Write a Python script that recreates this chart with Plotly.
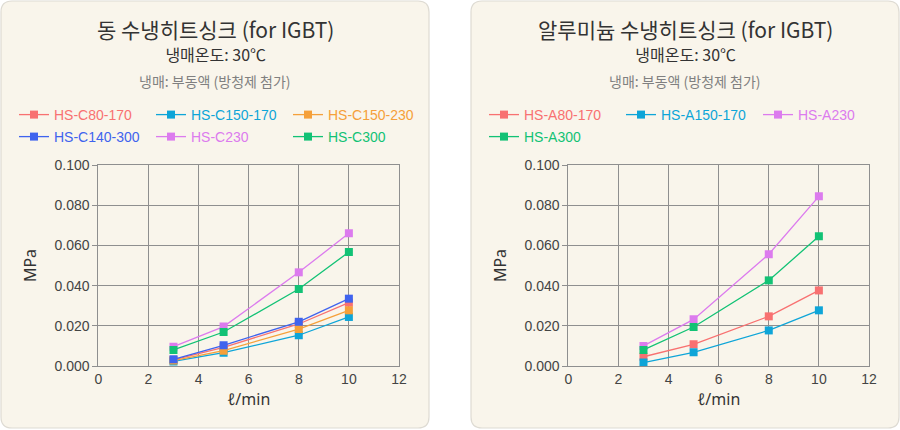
import plotly.graph_objects as go

W, H = 900, 430

flow = [3, 5, 8, 10]

# Copper heat sinks (left)
c_names = ["HS-C80-170", "HS-C150-170", "HS-C150-230", "HS-C140-300", "HS-C230", "HS-C300"]
c80_170 = [0.0030, 0.0093, 0.0209, 0.0315]
c150_170 = [0.0023, 0.0066, 0.0153, 0.0244]
c150_230 = [0.0027, 0.0076, 0.0184, 0.0277]
c140_300 = [0.0033, 0.0103, 0.0220, 0.0335]
c230 = [0.0096, 0.0196, 0.0466, 0.0660]
c300 = [0.0080, 0.0169, 0.0383, 0.0567]
c_values = [c80_170, c150_170, c150_230, c140_300, c230, c300]
c_colors = ["#f87171", "#0ea5d8", "#f5a03a", "#3f63ee", "#dc7bee", "#12c275"]

# Aluminium heat sinks (right)
a_names = ["HS-A80-170", "HS-A150-170", "HS-A230", "HS-A300"]
a80_170 = [0.0046, 0.0108, 0.0247, 0.0376]
a150_170 = [0.0017, 0.0068, 0.0177, 0.0277]
a230 = [0.0100, 0.0232, 0.0556, 0.0844]
a300 = [0.0080, 0.0194, 0.0426, 0.0645]
a_values = [a80_170, a150_170, a230, a300]
a_colors = ["#f87171", "#0ea5d8", "#dc7bee", "#12c275"]

left_titles = ["동 수냉히트싱크 (for IGBT)", "냉매온도: 30℃", "냉매: 부동액 (방청제 첨가)"]
right_titles = ["알루미늄 수냉히트싱크 (for IGBT)", "냉매온도: 30℃", "냉매: 부동액 (방청제 첨가)"]
x_ticks = [0, 2, 4, 6, 8, 10, 12]
y_ticks = [0, 0.02, 0.04, 0.06, 0.08, 0.10]

KR = "Noto Sans CJK KR"
LAT = "Liberation Sans, Arial"

def px(x):
    return x / W

def py(y):
    return 1 - y / H

fig = go.Figure()

left_rows = ["legend", "legend2"]
right_rows = ["legend3", "legend4"]

for i, (n, v, c) in enumerate(zip(c_names, c_values, c_colors)):
    fig.add_trace(go.Scatter(
        x=flow, y=v, mode="lines+markers",
        name=f"<span style='color:{c}'>{n}</span>",
        line=dict(color=c, width=1.3),
        marker=dict(symbol="square", size=8, color=c),
        xaxis="x", yaxis="y",
        legend=left_rows[i // 3],
    ))

for i, (n, v, c) in enumerate(zip(a_names, a_values, a_colors)):
    fig.add_trace(go.Scatter(
        x=flow, y=v, mode="lines+markers",
        name=f"<span style='color:{c}'>{n}</span>",
        line=dict(color=c, width=1.3),
        marker=dict(symbol="square", size=8, color=c),
        xaxis="x2", yaxis="y2",
        legend=right_rows[i // 3],
    ))

def rounded(x0, y0, x1, y1, r):
    rx, ry = r / W, r / H
    X0, X1 = px(x0), px(x1)
    Y0, Y1 = py(y1), py(y0)
    return (f"M {X0+rx} {Y1} L {X1-rx} {Y1} Q {X1} {Y1} {X1} {Y1-ry} "
            f"L {X1} {Y0+ry} Q {X1} {Y0} {X1-rx} {Y0} "
            f"L {X0+rx} {Y0} Q {X0} {Y0} {X0} {Y0+ry} "
            f"L {X0} {Y1-ry} Q {X0} {Y1} {X0+rx} {Y1} Z")

shapes = [
    dict(type="path", xref="paper", yref="paper", path=rounded(1, 1, 429, 428, 11),
         fillcolor="#f9f5eb", line=dict(color="#dedbd3", width=1.2), layer="below"),
    dict(type="path", xref="paper", yref="paper", path=rounded(471, 1, 899, 428, 11),
         fillcolor="#f9f5eb", line=dict(color="#dedbd3", width=1.2), layer="below"),
]

annotations = []
for cx, titles in [(215, left_titles), (685, right_titles)]:
    head = (f"<span style='font-size:21px'>{titles[0]}</span><br>"
            f"<span style='font-size:16px'>{titles[1]}</span>")
    annotations.append(dict(text=head, x=px(cx), y=py(40), xref="paper", yref="paper",
                            xanchor="center", yanchor="middle", showarrow=False, align="center",
                            font=dict(family=KR, size=18, color="#333333")))
    annotations.append(dict(text=titles[2], x=px(cx), y=py(81), xref="paper", yref="paper",
                            xanchor="center", yanchor="middle", showarrow=False,
                            font=dict(family=KR, size=14, color="#808080")))

axis_common = dict(
    showgrid=True, gridcolor="#8f8f8f", gridwidth=1,
    showline=True, linecolor="#8f8f8f", linewidth=1, mirror=True,
    zeroline=False, tickfont=dict(family=LAT, size=14, color="#444444"),
)

xax = dict(axis_common, range=[0, 12], tickvals=x_ticks, ticks="",
           title=dict(text="ℓ/min", font=dict(family="Noto Sans", size=16, color="#333333"), standoff=8))
yax = dict(axis_common, range=[0, 0.1], tickvals=y_ticks, tickformat=".3f",
           ticks="outside", ticklen=5, tickcolor="#8f8f8f",
           title=dict(text="MPa", font=dict(family="Noto Sans", size=16, color="#333333"), standoff=13))

leg_common = dict(orientation="h", bgcolor="rgba(0,0,0,0)", xanchor="left", yanchor="middle",
                  font=dict(family=LAT, size=14), entrywidthmode="pixels", entrywidth=92,
                  itemwidth=30, tracegroupgap=0)

fig.update_layout(
    width=W, height=H, autosize=False,
    margin=dict(l=0, r=0, t=0, b=0, pad=0, autoexpand=False),
    paper_bgcolor="white", plot_bgcolor="white",
    xaxis=dict(xax, domain=[px(98.3), px(399)], anchor="y"),
    yaxis=dict(yax, domain=[py(366), py(165)], anchor="x"),
    xaxis2=dict(xax, domain=[px(568.3), px(869)], anchor="y2"),
    yaxis2=dict(yax, domain=[py(366), py(165)], anchor="x2"),
    legend=dict(leg_common, x=px(14), y=py(115)),
    legend2=dict(leg_common, x=px(14), y=py(137)),
    legend3=dict(leg_common, x=px(484), y=py(115)),
    legend4=dict(leg_common, x=px(484), y=py(137)),
    shapes=shapes, annotations=annotations,
    showlegend=True,
)

fig.write_html("out.html",
               post_script="document.body.style.margin='0';document.body.style.overflow='hidden';")
